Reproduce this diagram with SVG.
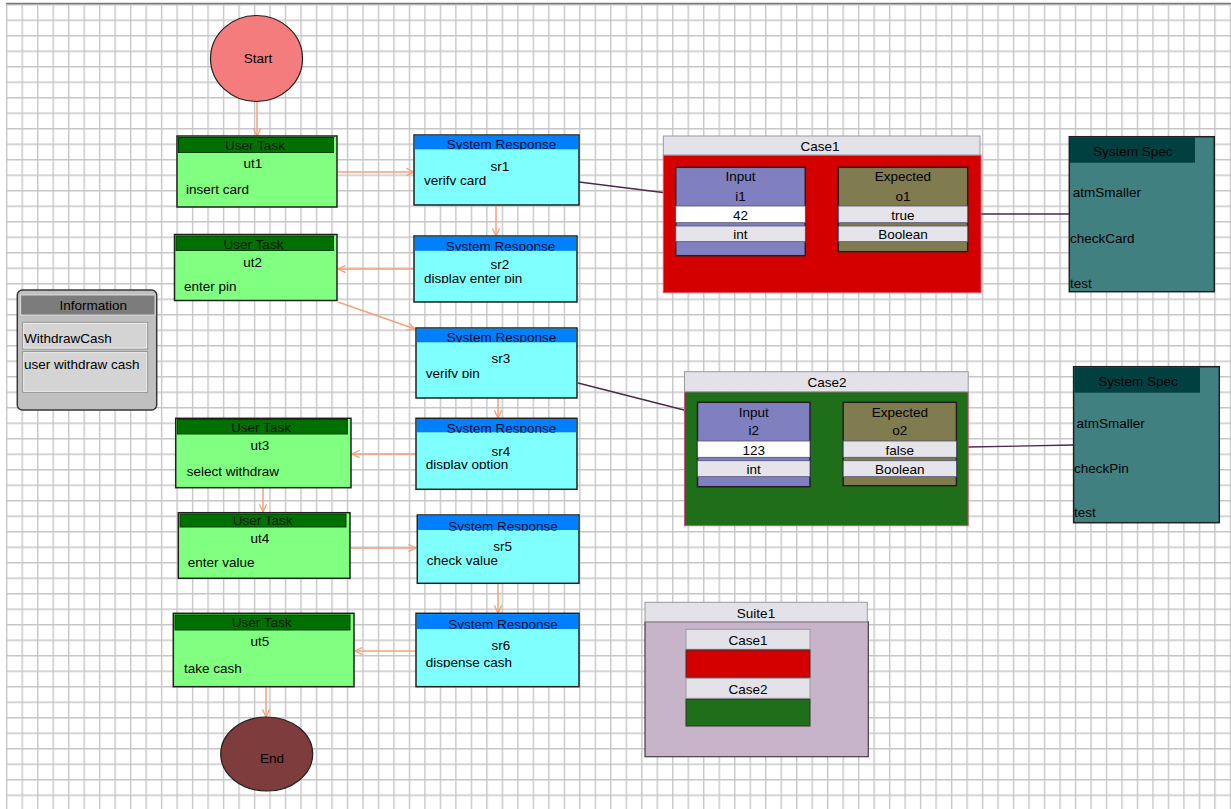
<svg xmlns="http://www.w3.org/2000/svg" width="1231" height="809" viewBox="0 0 1231 809">
<style>
.t{font-family:"Liberation Sans",Arial,sans-serif;font-size:13.5px;fill:#000}
.m{text-anchor:middle}
.box{stroke:#202020;stroke-width:1.5}
.ut{fill:#80ff80}
.uth{fill:#007000;stroke:#004000;stroke-width:1}
.sr{fill:#80ffff}
.srh{fill:#0080ff}
.hu{fill:#001800}
.hs{fill:#001030}
.conn{stroke:#f4a27c;stroke-width:1.5;fill:none;marker-end:url(#ah)}
.link{stroke:#4a2a4a;stroke-width:1.3;fill:none}
.title{fill:#e2e2e8;stroke:#9a9aa0;stroke-width:1}
.inp{fill:#8080c0;stroke:#202020;stroke-width:1.5}
.exp{fill:#807c50;stroke:#202020;stroke-width:1.5}
.roww{fill:#ffffff;stroke:#505070;stroke-width:0.8}
.rowg{fill:#e4e4ea;stroke:#505070;stroke-width:0.8}
.spec{fill:#408080;stroke:#202020;stroke-width:1.5}
.spech{fill:#004040}
.cb{clip-path:url(#cb)}
</style>
<defs>
<pattern id="grid" x="6" y="4" width="15.49" height="15.5" patternUnits="userSpaceOnUse">
<path d="M0 0.7H15.49M0.7 0V15.5" stroke="#c6c6c6" stroke-width="1.4" fill="none"/>
</pattern>
<marker id="ah" viewBox="0 0 10 10" refX="9.5" refY="5" markerWidth="9" markerHeight="9" markerUnits="userSpaceOnUse" orient="auto">
<path d="M1 1L9.5 5L1 9" fill="none" stroke="#f4a27c" stroke-width="1.5"/>
</marker>
<clipPath id="cb" clipPathUnits="objectBoundingBox"><rect x="-0.05" y="-0.2" width="1.1" height="1.02"/></clipPath>
<clipPath id="ct" clipPathUnits="objectBoundingBox"><rect x="-0.05" y="0.24" width="1.1" height="1"/></clipPath>
</defs>
<rect width="1231" height="809" fill="#ffffff"/>
<rect x="6" y="4" width="1225" height="805" fill="url(#grid)"/>
<line x1="6" y1="3.5" x2="1231" y2="3.5" stroke="#7a7a7a" stroke-width="1.5"/>

<g id="connectors">
<line class="conn" x1="257" y1="102" x2="257" y2="136"/>
<line class="conn" x1="338" y1="172" x2="414" y2="172"/>
<line class="conn" x1="496" y1="206" x2="496" y2="236"/>
<line class="conn" x1="414" y1="269" x2="338" y2="269"/>
<line class="conn" x1="338" y1="302" x2="415" y2="329"/>
<line class="conn" x1="498" y1="398" x2="498" y2="418"/>
<line class="conn" x1="416" y1="454" x2="352" y2="454"/>
<line class="conn" x1="263" y1="488" x2="263" y2="512"/>
<line class="conn" x1="351" y1="548" x2="416" y2="548"/>
<line class="conn" x1="498" y1="584" x2="498" y2="613"/>
<line class="conn" x1="416" y1="651" x2="355" y2="651"/>
<line class="conn" x1="266" y1="687" x2="266" y2="717"/>
<line class="link" x1="579" y1="182" x2="663" y2="192.5"/>
<line class="link" x1="981" y1="214" x2="1069" y2="214"/>
<line class="link" x1="578" y1="383" x2="684" y2="410"/>
<line class="link" x1="968" y1="447" x2="1073" y2="445"/>
</g>

<g id="start">
<ellipse cx="256.5" cy="58.5" rx="46" ry="43" fill="#f47c7c" stroke="#202020" stroke-width="1.2"/>
<text class="t m" x="258" y="63">Start</text>
</g>

<g id="ut1">
<rect class="ut box" x="177" y="136" width="160" height="71"/>
<rect class="uth" x="178.5" y="137.5" width="155" height="15"/>
<text class="t m hu" x="255" y="150">User Task</text>
<text class="t m" x="253" y="168">ut1</text>
<text class="t" x="186" y="194">insert card</text>
</g>

<g id="sr1">
<rect class="sr box" x="414" y="135" width="165" height="70"/>
<rect class="srh" x="414.8" y="135.8" width="163.4" height="13.5"/>
<text class="t m hs cb" x="501.5" y="149.3">System Response</text>
<text class="t m" x="500" y="171">sr1</text>
<text class="t cb" x="424" y="185">verify card</text>
</g>

<g id="ut2">
<rect class="ut box" x="174.5" y="234.5" width="162.5" height="66"/>
<rect class="uth" x="176" y="236" width="157.5" height="14.5"/>
<text class="t m hu" x="253.5" y="248.5">User Task</text>
<text class="t m" x="252.7" y="266.7">ut2</text>
<text class="t" x="184" y="291">enter pin</text>
</g>

<g id="sr2">
<rect class="sr box" x="414" y="236" width="163" height="66"/>
<rect class="srh" x="414.8" y="236.8" width="161.4" height="14"/>
<text class="t m hs cb" x="500.5" y="250.5">System Response</text>
<text class="t m" x="500" y="269">sr2</text>
<text class="t cb" x="424" y="283">display enter pin</text>
</g>

<g id="information">
<rect x="17.3" y="290" width="139.4" height="120" rx="5" fill="#c0c0c0" stroke="#383838" stroke-width="1.5"/>
<rect x="20.7" y="295" width="134.3" height="20" fill="#7c7c7c" stroke="#e8e8e8" stroke-width="0.8"/>
<text class="t m" x="93.3" y="310" fill="#101010">Information</text>
<rect x="22.7" y="322.3" width="125" height="26.7" fill="#d4d4d4" stroke="#909090" stroke-width="1"/>
<rect x="23.7" y="323.3" width="123" height="24.7" fill="none" stroke="#f4f4f4" stroke-width="0.8"/>
<text class="t" x="24" y="342.7">WithdrawCash</text>
<rect x="22.7" y="351.7" width="125" height="40.6" fill="#d4d4d4" stroke="#909090" stroke-width="1"/>
<rect x="23.7" y="352.7" width="123" height="38.6" fill="none" stroke="#f4f4f4" stroke-width="0.8"/>
<text class="t" x="24" y="369.3">user withdraw cash</text>
</g>

<g id="sr3">
<rect class="sr box" x="416" y="328" width="161" height="70"/>
<rect class="srh" x="416.8" y="328.8" width="159.4" height="13.5"/>
<text class="t m hs cb" x="501.5" y="342">System Response</text>
<text class="t m" x="501" y="363">sr3</text>
<text class="t cb" x="425.7" y="377.7">verify pin</text>
</g>

<g id="sr4">
<rect class="sr box" x="416" y="418.3" width="161" height="71"/>
<rect class="srh" x="416.8" y="419" width="159.4" height="13.3"/>
<text class="t m hs cb" x="501.5" y="432.5">System Response</text>
<text class="t m" x="501" y="456">sr4</text>
<text class="t cb" x="425.7" y="469">display option</text>
</g>

<g id="ut3">
<rect class="ut box" x="175.7" y="418.3" width="175.3" height="69.4"/>
<rect class="uth" x="177.3" y="419.5" width="170" height="14.5"/>
<text class="t m hu" x="261" y="431.7">User Task</text>
<text class="t m" x="260" y="450">ut3</text>
<text class="t" x="186.7" y="475.7">select withdraw</text>
</g>

<g id="ut4">
<rect class="ut box" x="178.3" y="512.7" width="171.7" height="65.6"/>
<rect class="uth" x="180" y="514" width="166" height="13"/>
<text class="t m hu" x="262.7" y="525" style="clip-path:url(#ct)">User Task</text>
<text class="t m" x="260" y="543">ut4</text>
<text class="t" x="187.7" y="567">enter value</text>
</g>

<g id="sr5">
<rect class="sr box" x="417.3" y="515" width="161.7" height="68.3"/>
<rect class="srh" x="418.1" y="515.8" width="160.1" height="14.2"/>
<text class="t m hs cb" x="503" y="530.5">System Response</text>
<text class="t m" x="502.7" y="550.7">sr5</text>
<text class="t" x="426.7" y="565">check value</text>
</g>

<g id="sr6">
<rect class="sr box" x="416" y="613.3" width="163" height="73.4"/>
<rect class="srh" x="416.8" y="614.1" width="161.4" height="14.9"/>
<text class="t m hs cb" x="503" y="628.5">System Response</text>
<text class="t m" x="501" y="650">sr6</text>
<text class="t cb" x="425.7" y="667.3">dispense cash</text>
</g>

<g id="ut5">
<rect class="ut box" x="173.3" y="613.3" width="180.7" height="73.4"/>
<rect class="uth" x="175" y="615" width="175" height="15"/>
<text class="t m hu" x="261.7" y="627">User Task</text>
<text class="t m" x="260" y="646">ut5</text>
<text class="t" x="184" y="673.3">take cash</text>
</g>

<g id="end">
<ellipse cx="266.7" cy="754" rx="46" ry="37" fill="#7f3c3c" stroke="#202020" stroke-width="1.2"/>
<text class="t m" x="272" y="763" fill="#1a0a0a">End</text>
</g>

<g id="case1">
<rect x="663.3" y="155" width="317.7" height="137.7" fill="#d40000" stroke="#e05070" stroke-width="1"/>
<rect class="title" x="663.3" y="136" width="316.7" height="19"/>
<text class="t m" x="820" y="151">Case1</text>
<rect class="inp" x="675.7" y="167.3" width="129.6" height="88.4"/>
<text class="t m" x="740.5" y="180.7">Input</text>
<text class="t m" x="740.5" y="200.7">i1</text>
<rect class="roww" x="675.7" y="206" width="129.6" height="16.7"/>
<text class="t m" x="740.5" y="219.5">42</text>
<rect class="rowg" x="675.7" y="226" width="129.6" height="15.7"/>
<text class="t m" x="740.5" y="238.7">int</text>
<rect class="exp" x="838.3" y="167.3" width="129.4" height="84.4"/>
<text class="t m" x="903" y="180.7">Expected</text>
<text class="t m" x="903" y="200.7">o1</text>
<rect class="rowg" x="838.3" y="206" width="129.4" height="16.7"/>
<text class="t m" x="903" y="219.5">true</text>
<rect class="rowg" x="838.3" y="226" width="129.4" height="15.7"/>
<text class="t m" x="903" y="238.7">Boolean</text>
</g>

<g id="spec1">
<rect class="spec" x="1069.3" y="136.7" width="145" height="155"/>
<rect class="spech" x="1070" y="137.4" width="125" height="25.3"/>
<text class="t m" x="1132.7" y="155.7" fill="#0a1e1e">System Spec</text>
<text class="t" x="1072.7" y="197">atmSmaller</text>
<text class="t" x="1070" y="243.3">checkCard</text>
<text class="t" x="1070" y="287.7">test</text>
</g>

<g id="case2">
<rect x="684.5" y="391.7" width="283.7" height="134" fill="#1f6f1a" stroke="#d05080" stroke-width="1"/>
<rect class="title" x="684.5" y="371.7" width="283.7" height="20"/>
<text class="t m" x="827" y="386.7">Case2</text>
<rect class="inp" x="697.5" y="402.3" width="112.5" height="84.4"/>
<text class="t m" x="753.7" y="416.7">Input</text>
<text class="t m" x="753.7" y="435">i2</text>
<rect class="roww" x="697.5" y="441" width="112.5" height="16.3"/>
<text class="t m" x="753.7" y="455">123</text>
<rect class="rowg" x="697.5" y="460.7" width="112.5" height="16"/>
<text class="t m" x="753.7" y="474.3">int</text>
<rect class="exp" x="843.2" y="402.3" width="113.2" height="83.4"/>
<text class="t m" x="899.8" y="416.7">Expected</text>
<text class="t m" x="899.8" y="435">o2</text>
<rect class="rowg" x="843.2" y="441" width="113.2" height="16.3"/>
<text class="t m" x="899.8" y="455">false</text>
<rect class="rowg" x="843.2" y="460.7" width="113.2" height="16"/>
<text class="t m" x="899.8" y="474.3">Boolean</text>
</g>

<g id="spec2">
<rect class="spec" x="1073.6" y="366.7" width="145.7" height="156"/>
<rect class="spech" x="1074.3" y="367.4" width="125.7" height="25.3"/>
<text class="t m" x="1138" y="385.7" fill="#0a1e1e">System Spec</text>
<text class="t" x="1076.4" y="427.7">atmSmaller</text>
<text class="t" x="1074" y="473.3">checkPin</text>
<text class="t" x="1074" y="517.3">test</text>
</g>

<g id="suite1">
<rect x="645" y="621.7" width="223.3" height="135" fill="#c8b4c8" stroke="#404040" stroke-width="1.2"/>
<rect class="title" x="645" y="602.3" width="222.3" height="19.4"/>
<text class="t m" x="756" y="617.7">Suite1</text>
<rect class="title" x="686" y="629.3" width="124" height="20"/>
<text class="t m" x="748" y="644.7">Case1</text>
<rect x="686" y="650" width="124" height="27.3" fill="#d40000" stroke="#303030" stroke-width="1"/>
<rect class="title" x="686" y="678.3" width="124" height="20"/>
<text class="t m" x="748" y="694">Case2</text>
<rect x="686" y="699.3" width="124" height="26.7" fill="#1f6f1a" stroke="#303030" stroke-width="1"/>
</g>
</svg>
